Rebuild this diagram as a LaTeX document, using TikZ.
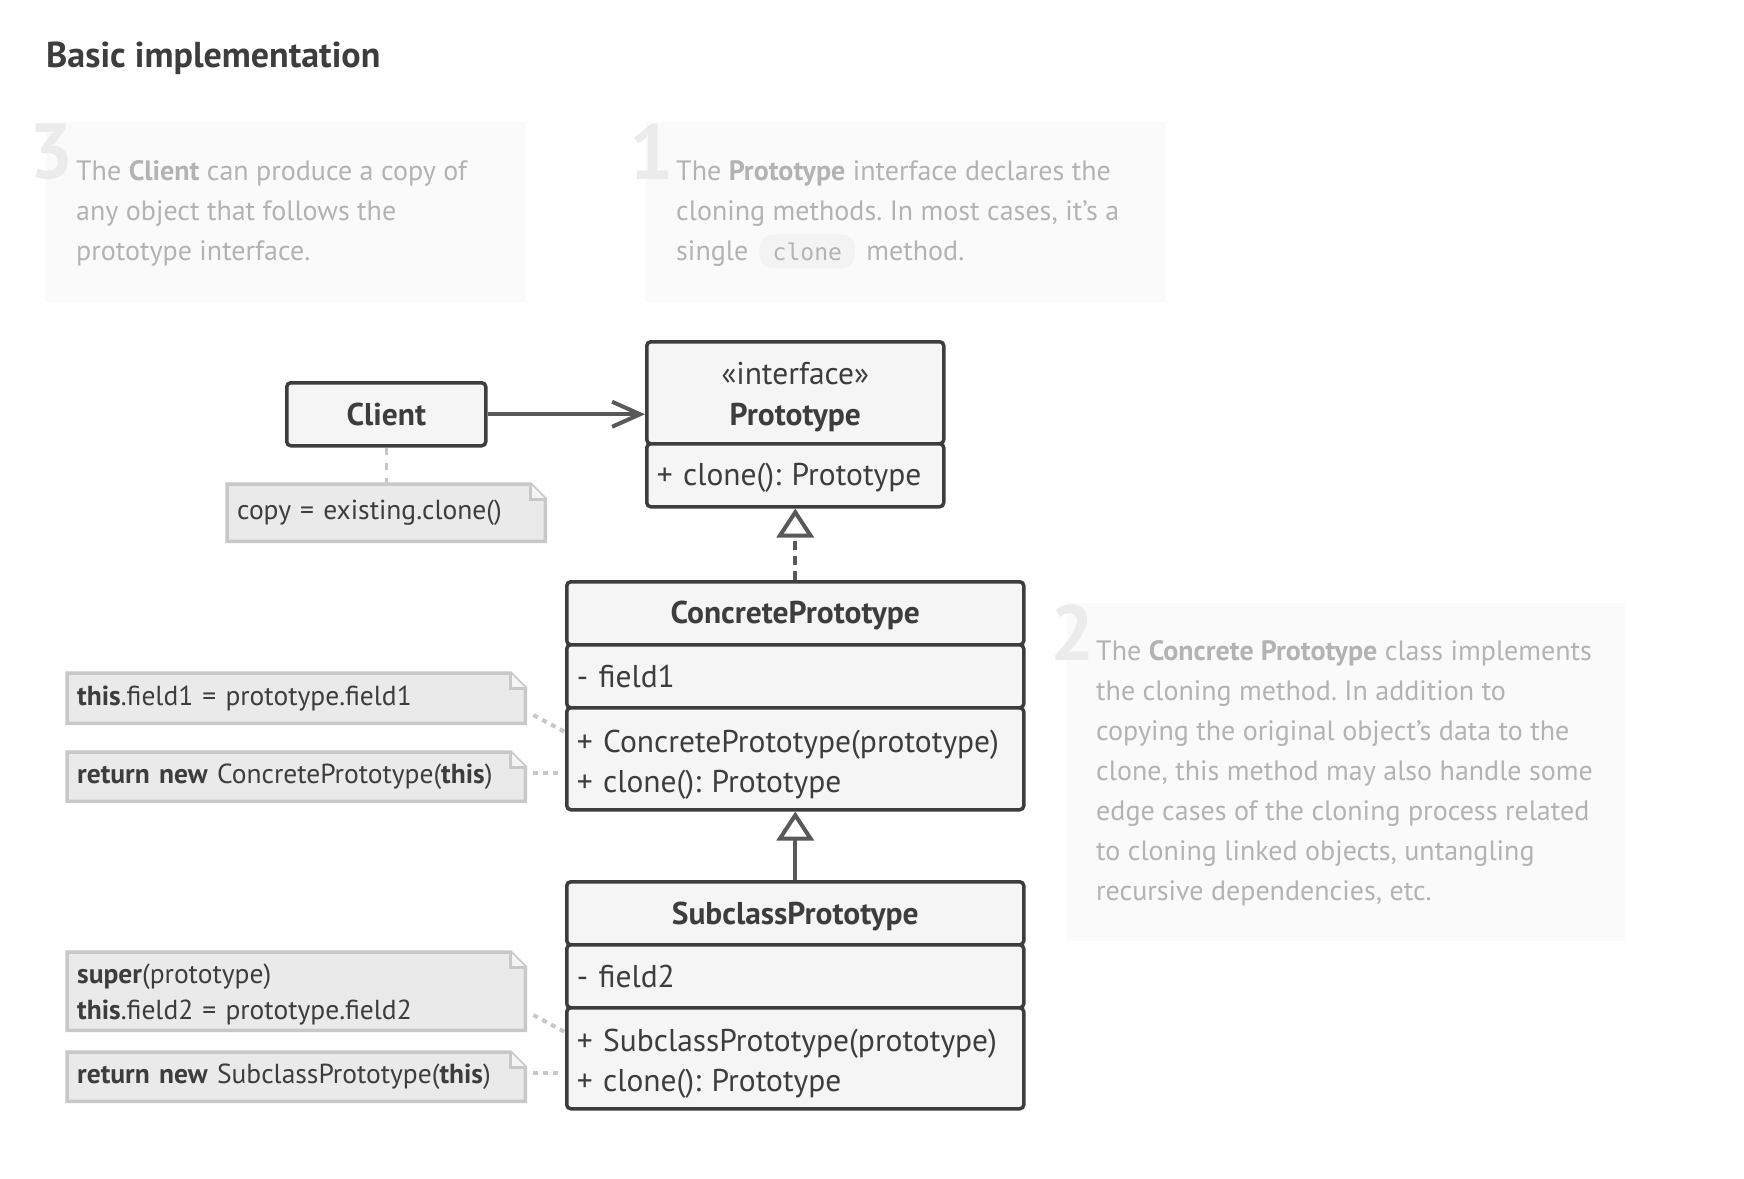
\documentclass[tikz,border=0pt]{standalone}
\usepackage{fontspec}
\setmainfont{PT Sans}
\setmonofont{DejaVu Sans Mono}
\usetikzlibrary{arrows.meta,calc,backgrounds}
\frenchspacing
\definecolor{ink}{HTML}{3D3D3D}
\definecolor{arrowink}{HTML}{595959}
\definecolor{boxfill}{HTML}{F5F5F5}
\definecolor{notefill}{HTML}{EAEAEA}
\definecolor{noteline}{HTML}{C8C8C8}
\definecolor{descfill}{HTML}{FAFAFA}
\definecolor{desctext}{HTML}{B3B3B3}
\definecolor{numeral}{HTML}{EBEBEB}
\definecolor{chipfill}{HTML}{F3F3F3}
\tikzset{
  classpart/.style={draw=ink, line width=3.5pt, fill=boxfill, rounded corners=4pt, text=ink,
    inner xsep=10pt, inner ysep=0pt, anchor=north west, font=\fontsize{31.5}{40}\selectfont},
  classtitle/.style={classpart, align=center, font=\bfseries\fontsize{31.5}{40}\selectfont},
  members/.style={classpart, align=left},
  notetext/.style={anchor=north west, inner xsep=10pt, inner ysep=0pt, text=ink, align=left,
    font=\fontsize{27.5}{36}\selectfont},
  desctxt/.style={anchor=north west, inner sep=0pt, text=desctext, align=left,
    font=\fontsize{28}{40}\selectfont},
  numtxt/.style={anchor=north west, inner sep=0pt, text=numeral,
    font=\bfseries\fontsize{78}{78}\selectfont},
  descbox/.style={fill=descfill, draw=none},
  noteconn/.style={draw=noteline, line width=4pt, dash pattern=on 5pt off 5pt},
  assoc/.style={draw=arrowink, line width=4pt, -{Straight Barb[length=28pt, width=25pt, line width=4pt]}},
  realize/.style={draw=arrowink, line width=4pt, dash pattern=on 9pt off 6pt,
    -{Triangle[open, length=29pt, width=37pt, line width=4pt]}},
  inherit/.style={draw=arrowink, line width=4pt,
    -{Triangle[open, length=29pt, width=37pt, line width=4pt]}}
}
% invisible strut that pushes a node's text down a little
\def\up#1{\rule{0pt}{#1pt}}
% note with a folded corner, drawn under the note's text
\def\notefold(#1){
  \begin{scope}[on background layer]
    \draw[noteline, line width=3.5pt, fill=notefill, line join=miter]
      (#1.north west) -- ($(#1.north east)+(-15,0)$) -- ($(#1.north east)+(0,15)$)
      -- (#1.south east) -- (#1.south west) -- cycle;
    \draw[noteline, line width=3pt, fill=white!50!notefill, line join=miter]
      ($(#1.north east)+(-15,0)$) -- ($(#1.north east)+(-15,15)$) -- ($(#1.north east)+(0,15)$);
  \end{scope}}
\newcommand\chip[1]{\hspace{4pt}\tikz[baseline=(c.base)]\node[fill=chipfill, rounded corners=13pt, inner xsep=13pt,
  inner ysep=8pt, text=desctext, font=\ttfamily\fontsize{23}{26}\selectfont] (c) {#1};\hspace{4pt}}

\begin{document}
\begin{tikzpicture}[x=1pt, y=-1pt]
  %%%%% START %%%%%
  \useasboundingbox (0,0) rectangle (1744,1178);

  \node[anchor=base west, inner sep=0pt, text=ink, font=\bfseries\fontsize{36}{40}\selectfont]
    (heading) at (46,67) {Basic implementation};

  % description boxes
  \fill[descbox] (46,122) rectangle (526,302);
  \node[numtxt] (num3) at (29,124) {3};
  \node[desctxt] (desc3) at (76,160) {The \textbf{Client} can produce a copy of\\
    any object that follows the\\ prototype interface.};

  \fill[descbox] (646,122) rectangle (1166,302);
  \node[numtxt] (num1) at (629,124) {1};
  \node[desctxt] (desc1) at (676,160) {The \textbf{Prototype} interface declares the\\
    cloning methods. In most cases, it's a\\ single \chip{clone} method.};

  \fill[descbox] (1067,603) rectangle (1625,941);
  \node[numtxt] (num2) at (1050,605) {2};
  \node[desctxt] (desc2) at (1096,640) {The \textbf{Concrete Prototype} class implements\\
    the cloning method. In addition to\\ copying the original object's data to the\\
    clone, this method may also handle some\\ edge cases of the cloning process related\\
    to cloning linked objects, untangling\\ recursive dependencies, etc.};

  % classes
  \node[classtitle, text width=179pt, minimum height=63pt] (client) at (285,381) {Client};

  \node[classtitle, text width=277pt, minimum height=102pt, font=\fontsize{31.5}{41}\selectfont]
    (protohead) at (645,340) {\up{31}«interface»\\ \textbf{Prototype}};
  \node[members, text width=277pt, minimum height=63pt] (protomethods) at (645,442) {\up{27}+ clone(): Prototype};

  \node[classtitle, text width=437pt, minimum height=63pt] (cptitle) at (565,580) {\up{27}ConcretePrototype};
  \node[members, text width=437pt, minimum height=63pt] (cpfields) at (565,643) {- field1};
  \node[members, text width=437pt, minimum height=102pt] (cpmethods) at (565,706)
    {\up{34}+ ConcretePrototype(prototype)\\ + clone(): Prototype};

  \node[classtitle, text width=437pt, minimum height=63pt] (sptitle) at (565,880) {\up{28}SubclassPrototype};
  \node[members, text width=437pt, minimum height=63pt] (spfields) at (565,943) {- field2};
  \node[members, text width=437pt, minimum height=101pt] (spmethods) at (565,1006)
    {\up{34}+ SubclassPrototype(prototype)\\ + clone(): Prototype};

  % notes
  \node[notetext, text width=298pt, minimum height=57pt] (copynote) at (227,484) {copy = existing.clone()};
  \notefold(copynote)
  \node[notetext, text width=438pt, minimum height=50pt] (cpfieldnote) at (67,673)
    {\textbf{this}.field1 = prototype.field1};
  \notefold(cpfieldnote)
  \node[notetext, text width=438pt, minimum height=49pt] (cpclonenote) at (67,752)
    {\textbf{return new} ConcretePrototype(\textbf{this})};
  \notefold(cpclonenote)
  \node[notetext, text width=438pt, minimum height=78pt] (spfieldnote) at (67,952)
    {\up{27}\textbf{super}(prototype)\\ \textbf{this}.field2 = prototype.field2};
  \notefold(spfieldnote)
  \node[notetext, text width=438pt, minimum height=49pt] (spclonenote) at (67,1052)
    {\textbf{return new} SubclassPrototype(\textbf{this})};
  \notefold(spclonenote)

  % connectors
  \draw[assoc] (client.east) -- (protohead.west |- client.east);
  \draw[realize] (cptitle.north) -- (protomethods.south);
  \draw[inherit] (sptitle.north) -- (cpmethods.south);

  \draw[noteline, line width=3pt, dash pattern=on 7pt off 8pt] (client.south) -- (copynote.north -| client.south);
  \draw[noteconn] ($(cpfieldnote.east |- cpmethods.north)+(8,9)$) -- ($(cpmethods.north west)+(0,26)$);
  \draw[noteconn] ($(cpclonenote.east)+(8,-4)$) -- ($(cpmethods.west |- cpclonenote.east)+(-6,-4)$);
  \draw[noteconn] ($(spfieldnote.east |- spmethods.north)+(8,9)$) -- ($(spmethods.north west)+(0,26)$);
  \draw[noteconn] ($(spclonenote.east)+(8,-4)$) -- ($(spmethods.west |- spclonenote.east)+(-6,-4)$);
  %%%%% END %%%%%
\end{tikzpicture}
\end{document}
